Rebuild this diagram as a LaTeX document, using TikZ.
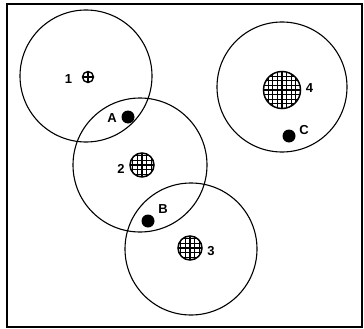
\documentclass[tikz,border=0pt]{standalone}
\usepackage{fontspec}
\setmainfont{Liberation Sans}
\begin{document}
\begin{tikzpicture}[x=1pt,y=-1pt,
  zone/.style={circle, draw, line width=1.1pt, minimum size=#1, inner sep=0pt},
  zone/.default=132pt,
  spot/.style={circle, fill, minimum size=13pt, inner sep=0pt},
  gridspot/.style={circle, draw, line width=1.5pt, minimum size=#1, inner sep=0pt,
    path picture={
      \foreach \k in {-6,...,6}{
        \draw[line width=1.3pt] ([shift={(\k*4.6pt,-30pt)}]path picture bounding box.center) -- ++(0pt,60pt);
        \draw[line width=1.3pt] ([shift={(-30pt,\k*4.6pt)}]path picture bounding box.center) -- ++(60pt,0pt);
      }}},
  crossspot/.style={circle, draw, line width=1.4pt, minimum size=11pt, inner sep=0pt,
    path picture={
      \draw[line width=1.3pt] (path picture bounding box.north) -- (path picture bounding box.south);
      \draw[line width=1.3pt] (path picture bounding box.west) -- (path picture bounding box.east);
    }},
  lab/.style={font=\fontsize{13}{13}\selectfont\bfseries, inner sep=0pt}]
\useasboundingbox (0,0) rectangle (364,329);
\draw[line width=1.3pt] (7,4) rectangle (362,327);
\node[zone=132pt] (z1) at (86,76) {};
\node[zone=134pt] (z2) at (140,165) {};
\node[zone=132pt] (z3) at (191,249) {};
\node[zone=130pt] (z4) at (282,87) {};
\node[crossspot] (f1) at (88,77) {};
\node[gridspot=24pt] (f2) at (142,165) {};
\node[gridspot=24pt] (f3) at (190,248) {};
\node[gridspot=37pt] (f4) at (282,90) {};
\node[spot] (pA) at (128,117) {};
\node[spot] (pB) at (148,221) {};
\node[spot] (pC) at (289,136) {};
\node[lab] (l1) at (68.5,79) {1};
\node[lab] (l2) at (121,169) {2};
\node[lab] (l3) at (211,251) {3};
\node[lab] (l4) at (309.5,88) {4};
\node[lab] (lA) at (112,118.5) {A};
\node[lab] (lB) at (163,209) {B};
\node[lab] (lC) at (304,130) {C};
\end{tikzpicture}
\end{document}
